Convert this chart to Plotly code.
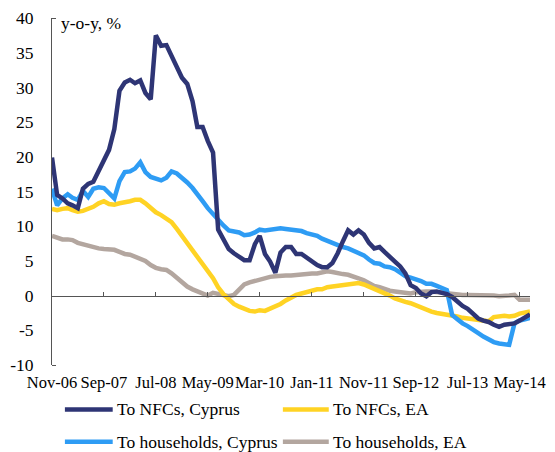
import plotly.graph_objects as go
import pandas as pd

months = pd.date_range("2006-11-01", periods=93, freq="MS")

nfc_cyprus = [19.9, 14.5, 14.0, 13.3, 13.0, 12.6, 15.4, 16.1, 16.4, 17.9,
              19.5, 21.0, 24.0, 29.5, 30.7, 31.1, 30.6, 31.0, 29.2, 28.3,
              37.5, 36.0, 36.1, 34.5, 32.7, 31.4, 30.5, 28.0, 24.3, 24.3,
              22.3, 20.6, 9.5, 8.1, 6.7, 6.1, 5.6, 5.1, 5.1, 7.4,
              8.6, 6.0, 4.9, 3.3, 6.2, 7.0, 7.0, 6.0, 6.0, 5.5,
              4.8, 4.4, 4.1, 4.1, 4.7, 6.1, 7.8, 9.4, 8.8, 9.4,
              8.8, 7.6, 6.8, 7.0, 6.3, 5.5, 4.9, 4.2, 3.2, 1.5,
              1.1, 0.3, -0.1, 0.5, 0.6, 0.4, 0.2, -0.2, -0.9, -1.5,
              -1.9, -2.6, -3.3, -3.6, -3.8, -4.2, -4.5, -4.2, -4.1, -4.0,
              -3.6, -3.1, -2.7]

nfc_ea = [12.5, 12.3, 12.5, 12.6, 12.3, 12.1, 12.2, 12.5, 12.8, 13.3,
          13.6, 13.2, 13.1, 13.3, 13.4, 13.6, 13.8, 13.8, 13.3, 12.6,
          12.0, 11.6, 11.1, 10.6, 9.6, 8.6, 7.8, 6.6, 5.6, 4.8,
          3.8, 2.5, 1.2, 0.2, -0.5, -1.2, -1.6, -1.9, -2.2, -2.3,
          -2.1, -2.2, -1.9, -1.5, -1.2, -0.7, -0.2, 0.1, 0.3, 0.5,
          0.7, 0.9, 0.9, 1.2, 1.3, 1.4, 1.6, 1.7, 1.8, 1.8,
          1.6, 1.3, 1.0, 0.7, 0.3, 0.0, -0.4, -0.7, -0.9, -1.1,
          -1.4, -1.8, -2.0, -2.3, -2.5, -2.6, -2.8, -2.9, -3.0, -3.2,
          -3.3, -3.5, -3.6, -3.6, -3.7, -3.1, -3.0, -2.9, -3.0, -2.9,
          -2.6, -2.4, -2.3]

hh_cyprus = [15.4, 13.0, 14.0, 14.6, 14.1, 13.8, 15.1, 14.2, 15.4, 15.6,
             15.5, 14.8, 14.0, 16.5, 17.8, 17.9, 18.3, 19.2, 17.8, 17.1,
             16.9, 16.6, 17.0, 17.9, 17.6, 17.0, 16.3, 15.5, 14.7, 13.6,
             12.6, 11.7, 10.8, 10.1, 9.4, 9.2, 9.1, 8.7, 8.8, 9.1,
             9.5, 9.4, 9.5, 9.7, 9.7, 9.6, 9.5, 9.4, 9.3, 9.0,
             8.8, 8.6, 8.2, 7.9, 7.5, 7.3, 7.0, 6.8, 6.5, 6.1,
             5.8, 5.2, 4.7, 4.6, 4.2, 4.1, 3.8, 3.3, 2.8, 2.6,
             2.4, 2.1, 1.7, 1.7, 1.4, 1.0, 0.8, -2.8, -3.4, -4.0,
             -4.4, -5.0, -5.4, -5.9, -6.4, -6.7, -6.9, -7.0, -7.1, -4.0,
             -3.6, -3.4, -3.2]

hh_ea = [8.6, 8.3, 8.1, 8.1, 8.0, 7.6, 7.4, 7.2, 6.9, 6.8,
         6.7, 6.7, 6.6, 6.3, 6.0, 5.9, 5.6, 5.3, 5.0, 4.4,
         4.0, 3.8, 3.7, 3.2, 2.5, 1.8, 1.3, 0.9, 0.6, 0.4,
         0.0, 0.4, 0.2, 0.0, -0.1, 0.1, 0.9, 1.6, 1.9, 2.1,
         2.3, 2.6, 2.7, 2.8, 2.9, 2.9, 2.9, 3.0, 3.0, 3.1,
         3.2, 3.2, 3.3, 3.5, 3.4, 3.2, 3.1, 3.0, 2.8, 2.5,
         2.2, 1.8, 1.4, 1.2, 0.9, 0.7, 0.6, 0.5, 0.4, 0.3,
         0.5, 0.6, 0.6, 0.6, 0.5, 0.5, 0.4, 0.3, 0.2, 0.1,
         0.1, 0.1, 0.1, 0.1, 0.0, 0.0, -0.1, -0.1, 0.0, 0.1,
         -0.6, -0.6, -0.6]

tick_dates = list(months[::10])
tick_labels = [d.strftime("%b-%y") for d in tick_dates]

y_ticks = [-10, -5, 0, 5, 10, 15, 20, 25, 30, 35, 40]
y_tick_labels = [str(v) for v in y_ticks]  # plain hyphen minus, as in the source

series_names = ["To NFCs, Cyprus", "To NFCs, EA",
                "To households, Cyprus", "To households, EA"]
series_values = [nfc_cyprus, nfc_ea, hh_cyprus, hh_ea]
series_colors = ["#2E3575", "#FFD324", "#2E9CF4", "#B3A69F"]

FONT = "Liberation Serif"
AX = "#555555"

fig = go.Figure()
for idx in [3, 1, 2, 0]:
    fig.add_trace(go.Scatter(x=months, y=series_values[idx], mode="lines",
                             name=series_names[idx], showlegend=False,
                             line=dict(color=series_colors[idx], width=4.5)))

# invisible trace to attach the zero-line axis
fig.add_trace(go.Scatter(x=[months[0]], y=[0], xaxis="x2", mode="lines",
                         showlegend=False, hoverinfo="skip",
                         line=dict(width=0)))

# legend (2 x 2 grid) drawn as swatches + labels
leg_cols = [(0.027, 0.127, 0.131), (0.483, 0.579, 0.584)]
leg_rows = [-0.128, -0.221]
for i, (name, col) in enumerate(zip(series_names, series_colors)):
    x0, x1, xt = leg_cols[i % 2]
    yy = leg_rows[i // 2]
    fig.add_shape(type="line", xref="paper", yref="paper", x0=x0, x1=x1,
                  y0=yy, y1=yy, line=dict(color=col, width=4.5))
    fig.add_annotation(text=name, xref="paper", yref="paper", x=xt, y=yy,
                       xanchor="left", yanchor="middle", showarrow=False,
                       font=dict(family=FONT, size=17.5, color="black"))

xr = [months[0], months[-1]]
fig.update_layout(
    width=547, height=444,
    margin=dict(l=44, r=25, t=10, b=87, autoexpand=False),
    paper_bgcolor="white", plot_bgcolor="white",
    font=dict(family=FONT, size=17.5, color="black"),
    showlegend=False,
    xaxis=dict(range=xr, showgrid=False, zeroline=False, showline=False,
               tickmode="array", tickvals=tick_dates, ticktext=tick_labels,
               ticks="", tickfont=dict(family=FONT, size=16.5), tickangle=0,
               ticklabelstandoff=5),
    xaxis2=dict(range=xr, overlaying="x", anchor="free", position=0.2,
                showgrid=False, zeroline=False, showline=True, linecolor=AX,
                linewidth=1, tickmode="array", tickvals=tick_dates,
                ticks="inside", ticklen=4, tickcolor=AX,
                showticklabels=False),
    yaxis=dict(range=[-10, 40], tickmode="array", tickvals=y_ticks,
               ticktext=y_tick_labels, showgrid=False, zeroline=False,
               showline=True, linecolor=AX, linewidth=1, ticks="",
               ticklabelstandoff=14, tickfont=dict(family=FONT, size=17.5),
               minor=dict(tickmode="array", tickvals=[-10, 40],
                          ticks="inside", ticklen=4, tickcolor=AX)),
)

fig.add_annotation(text="y-o-y, %", xref="paper", yref="paper", x=0.015,
                   y=0.986, xanchor="left", yanchor="middle", showarrow=False,
                   font=dict(family=FONT, size=17.5))

fig.write_html("out.html")
